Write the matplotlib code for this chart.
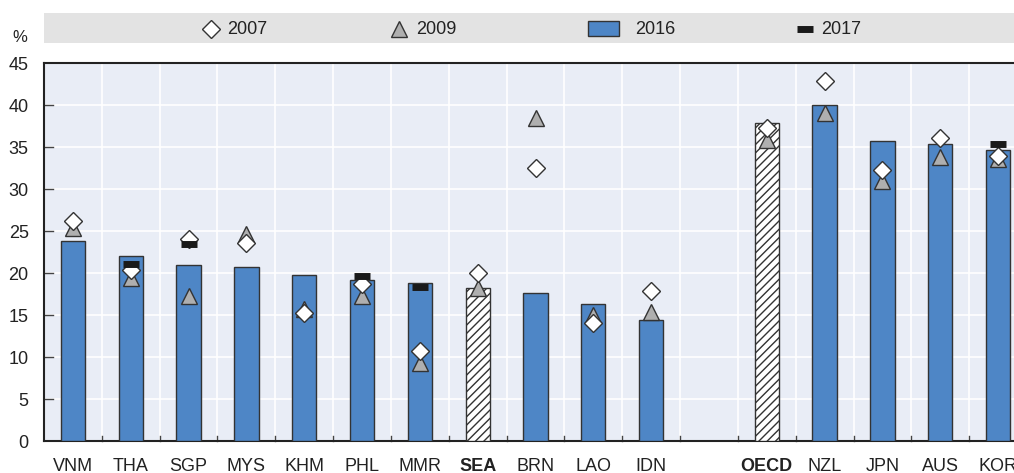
import matplotlib
matplotlib.use("Agg")
import matplotlib.pyplot as plt
import numpy as np
from matplotlib.patches import Rectangle

plt.rcParams['font.family'] = ['Liberation Sans Narrow', 'Liberation Sans', 'DejaVu Sans']
plt.rcParams['hatch.linewidth'] = 1.0

categories = ["VNM", "THA", "SGP", "MYS", "KHM", "PHL", "MMR", "SEA", "BRN", "LAO", "IDN", "",
              "OECD", "NZL", "JPN", "AUS", "KOR"]
v2016 = [23.8, 22.0, 21.0, 20.75, 19.8, 19.2, 18.85, 18.25, 17.6, 16.3, 14.35, None,
         37.8, 39.95, 35.75, 35.35, 34.7]
v2007 = [26.2, 20.3, 24.0, 23.6, 15.2, 18.7, 10.75, 19.95, 32.5, 14.0, 17.8, None,
         37.3, 42.8, 32.3, 36.1, 33.95]
v2009 = [25.4, 19.4, 17.3, 24.7, 15.7, 17.3, 9.25, 18.2, 38.4, 15.0, 15.3, None,
         35.8, 39.1, 30.9, 33.85, 33.6]
v2017 = [None, 21.1, 23.45, None, None, 19.6, 18.3, None, None, None, None, None,
         None, None, None, None, 35.3]
aggregates = ["SEA", "OECD"]
yticks = [0, 5, 10, 15, 20, 25, 30, 35, 40, 45]

BLUE = "#4E86C6"
EDGE = "#333333"
BG = "#E9EDF6"
FS = 13

fig = plt.figure(figsize=(10.14, 4.73), dpi=100)
W, H = 1014, 473
ax = fig.add_axes([44 / W, 32 / H, (1027 - 44) / W, 378 / H])
ax.set_facecolor(BG)

x = np.arange(len(categories))
for i, c in enumerate(categories):
    if v2016[i] is None:
        continue
    if c in aggregates:
        ax.bar(i, v2016[i], width=0.42, color="white", edgecolor=EDGE, linewidth=1.0,
               hatch="////", zorder=3)
    else:
        ax.bar(i, v2016[i], width=0.42, color=BLUE, edgecolor=EDGE, linewidth=1.0, zorder=3)

xs9 = [i for i in x if v2009[i] is not None]
ax.plot(xs9, [v2009[i] for i in xs9], linestyle="none", marker="^", markersize=11,
        markerfacecolor="#AFAFAF", markeredgecolor=EDGE, markeredgewidth=1.0, zorder=4)
xs7 = [i for i in x if v2007[i] is not None]
ax.plot(xs7, [v2007[i] for i in xs7], linestyle="none", marker="D", markersize=9.5,
        markerfacecolor="white", markeredgecolor=EDGE, markeredgewidth=1.0, zorder=5)
xs17 = [i for i in x if v2017[i] is not None]
ax.plot(xs17, [v2017[i] for i in xs17], linestyle="none", marker="_", markersize=12,
        markeredgewidth=5, color="#1A1A1A", zorder=6)

ax.set_xlim(-0.5, len(categories) - 0.5)
ax.set_ylim(0, 45)
ax.set_yticks(yticks)
ax.set_yticklabels([str(t) for t in yticks], fontsize=FS, color="#222222")
ax.set_xticks(x)
ax.set_xticklabels(categories, fontsize=FS, color="#222222")
for lab in ax.get_xticklabels():
    if lab.get_text() in aggregates:
        lab.set_fontweight("bold")
ax.tick_params(axis="x", length=0, pad=12)
ax.tick_params(axis="y", length=0, pad=11)

# grid
for yv in yticks[1:-1]:
    ax.axhline(yv, color="white", linewidth=1.2, zorder=1)
for b in np.arange(0.5, len(categories) - 0.5, 1):
    ax.axvline(b, color="white", linewidth=1.2, zorder=1)
    ax.plot([b, b], [0, 0.6], color="#444444", linewidth=1.0, zorder=2, clip_on=False)
for yv in yticks[1:-1]:
    ax.plot([-0.5, -0.35], [yv, yv], color="#444444", linewidth=1.0, zorder=2)

for s in ["left", "bottom", "top"]:
    ax.spines[s].set_color("#222222")
    ax.spines[s].set_linewidth(1.5)
ax.spines["right"].set_visible(False)

# legend band
fig.patches.append(Rectangle((44 / W, (473 - 43) / H), (1014 - 44) / W, 30 / H,
                             transform=fig.transFigure, facecolor="#E3E3E3",
                             edgecolor="none", zorder=0))
ly = (473 - 29) / H
fig.lines.append(plt.Line2D([211 / W], [ly], marker="D", markersize=9.5, markerfacecolor="white",
                            markeredgecolor=EDGE, markeredgewidth=1.0, linestyle="none",
                            transform=fig.transFigure))
fig.text(227 / W, ly, "2007", fontsize=FS, va="center", ha="left", color="#222222")
fig.lines.append(plt.Line2D([399 / W], [ly], marker="^", markersize=11, markerfacecolor="#AFAFAF",
                            markeredgecolor=EDGE, markeredgewidth=1.0, linestyle="none",
                            transform=fig.transFigure))
fig.text(416 / W, ly, "2009", fontsize=FS, va="center", ha="left", color="#222222")
fig.patches.append(Rectangle((588 / W, (473 - 36) / H), 31 / W, 15 / H,
                             transform=fig.transFigure, facecolor=BLUE,
                             edgecolor=EDGE, linewidth=1.0, zorder=2))
fig.text(635 / W, ly, "2016", fontsize=FS, va="center", ha="left", color="#222222")
fig.lines.append(plt.Line2D([805 / W], [ly], marker="_", markersize=12, markeredgewidth=5,
                            color="#1A1A1A", linestyle="none", transform=fig.transFigure))
fig.text(821 / W, ly, "2017", fontsize=FS, va="center", ha="left", color="#222222")

fig.text(20 / W, (473 - 38) / H, "%", fontsize=12, va="center", ha="center", color="#222222")

fig.savefig("out.png", dpi=100)
